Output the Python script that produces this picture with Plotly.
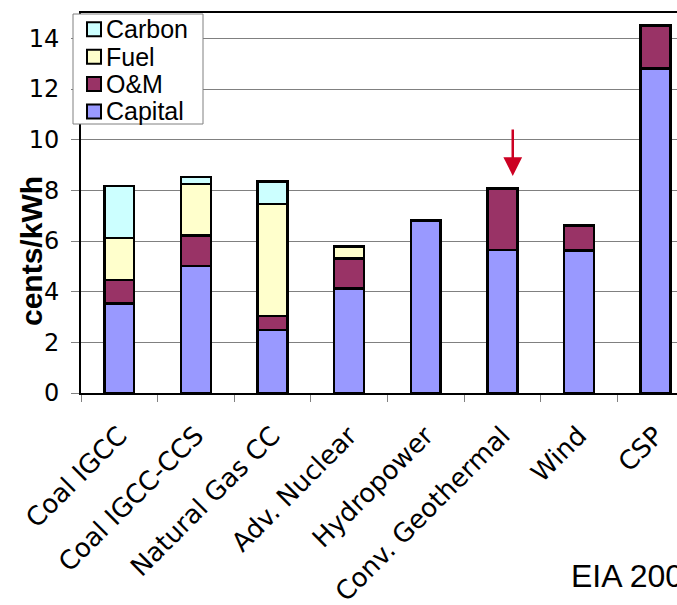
import plotly.graph_objects as go

# Levelized cost of new generation, cents/kWh, split by component
categories = ["Coal IGCC", "Coal IGCC-CCS", "Natural Gas CC", "Adv. Nuclear",
              "Hydropower", "Conv. Geothermal", "Wind", "CSP"]
capital = [3.53, 5.01, 2.48, 4.12, 6.80, 5.65, 5.62, 12.80]
om = [0.94, 1.20, 0.56, 1.18, None, 2.42, 0.99, 1.71]
fuel = [1.64, 2.04, 4.42, 0.49, None, None, None, None]
carbon = [2.07, 0.28, 0.89, None, None, None, None, None]
y_ticks = [0, 2, 4, 6, 8, 10, 12, 14]

series = [
    ("Capital", capital, "#9999FF"),
    ("O&M", om, "#993366"),
    ("Fuel", fuel, "#FFFFCC"),
    ("Carbon", carbon, "#CCFFFF"),
]

W, H = 677, 605
ML, MT, MB = 81, 13, 212
plot_w, plot_h = W - ML, H - MT - MB
Y0_PX = H - MB  # pixel row of the x axis


def px_x(px):
    return (px - ML) / plot_w


def px_y(py):
    return (Y0_PX - py) / plot_h


fig = go.Figure()
for name, vals, color in series:
    fig.add_trace(go.Bar(
        x=categories, y=vals, name=name, width=0.39,
        marker=dict(color=color, line=dict(color="black", width=2.5)),
    ))

fig.update_layout(
    width=W, height=H,
    margin=dict(l=ML, r=0, t=MT, b=MB, pad=0, autoexpand=False),
    barmode="stack",
    plot_bgcolor="white", paper_bgcolor="white",
    font=dict(family="DejaVu Sans", color="black"),
    showlegend=False,
)

fig.update_xaxes(
    type="category", range=[-0.5, 7.28], automargin=False,
    showline=True, linecolor="black", linewidth=2, mirror=True,
    ticks="outside", tickson="boundaries", ticklen=7, tickcolor="#808080",
    tickangle=-45, ticklabelstandoff=15,
    tickfont=dict(family="DejaVu Sans", size=26, color="black"),
    showgrid=False,
)
fig.update_yaxes(
    range=[0, 15], tickvals=y_ticks, automargin=False,
    showline=True, linecolor="black", linewidth=2,
    ticks="outside", ticklen=8, tickcolor="#808080",
    ticklabelstandoff=7,
    tickfont=dict(family="DejaVu Sans", size=24, color="black"),
    showgrid=True, gridcolor="#808080", gridwidth=1,
    zeroline=False,
)

# legend box (top-left, overlapping the plot corner), Carbon listed first
box = dict(x0=73, x1=203, y0=14, y1=124)
fig.add_shape(
    type="rect", xref="paper", yref="paper", layer="above",
    x0=px_x(box["x0"]), x1=px_x(box["x1"]),
    y0=px_y(box["y1"]), y1=px_y(box["y0"]),
    fillcolor="white", line=dict(color="#808080", width=1),
)
row_h = 27.4
first_row = 29.3
for i, (name, _, color) in enumerate(reversed(series)):
    cy = first_row + i * row_h
    fig.add_shape(
        type="rect", xref="paper", yref="paper", layer="above",
        x0=px_x(87), x1=px_x(101), y0=px_y(cy + 7), y1=px_y(cy - 7),
        fillcolor=color, line=dict(color="black", width=2),
    )
    fig.add_annotation(
        text=name, xref="paper", yref="paper",
        x=px_x(105), y=px_y(cy), xanchor="left", yanchor="middle",
        showarrow=False, borderpad=0,
        font=dict(family="Liberation Sans", size=25, color="black"),
    )

# axis title
fig.add_annotation(
    text="<b>cents/kWh</b>", textangle=-90,
    xref="paper", yref="paper",
    x=px_x(32), y=px_y(251),
    xanchor="center", yanchor="middle", showarrow=False,
    font=dict(family="Liberation Sans", size=30, color="black"),
)

# arrow pointing at the geothermal bar
fig.add_annotation(
    x=5.136, y=8.57, ax=5.136, ay=10.46,
    xref="x", yref="y", axref="x", ayref="y",
    text="", showarrow=True,
    arrowhead=2, arrowsize=1.5, arrowwidth=2.5, arrowcolor="#CC0022",
    standoff=0, startstandoff=0,
)

# source note
fig.add_annotation(
    text="EIA 2009",
    xref="paper", yref="paper",
    x=px_x(569), y=px_y(576),
    xanchor="left", yanchor="middle", showarrow=False,
    font=dict(family="Liberation Sans", size=32, color="black"),
)

fig.write_html("out.html", config=dict(displayModeBar=False))
